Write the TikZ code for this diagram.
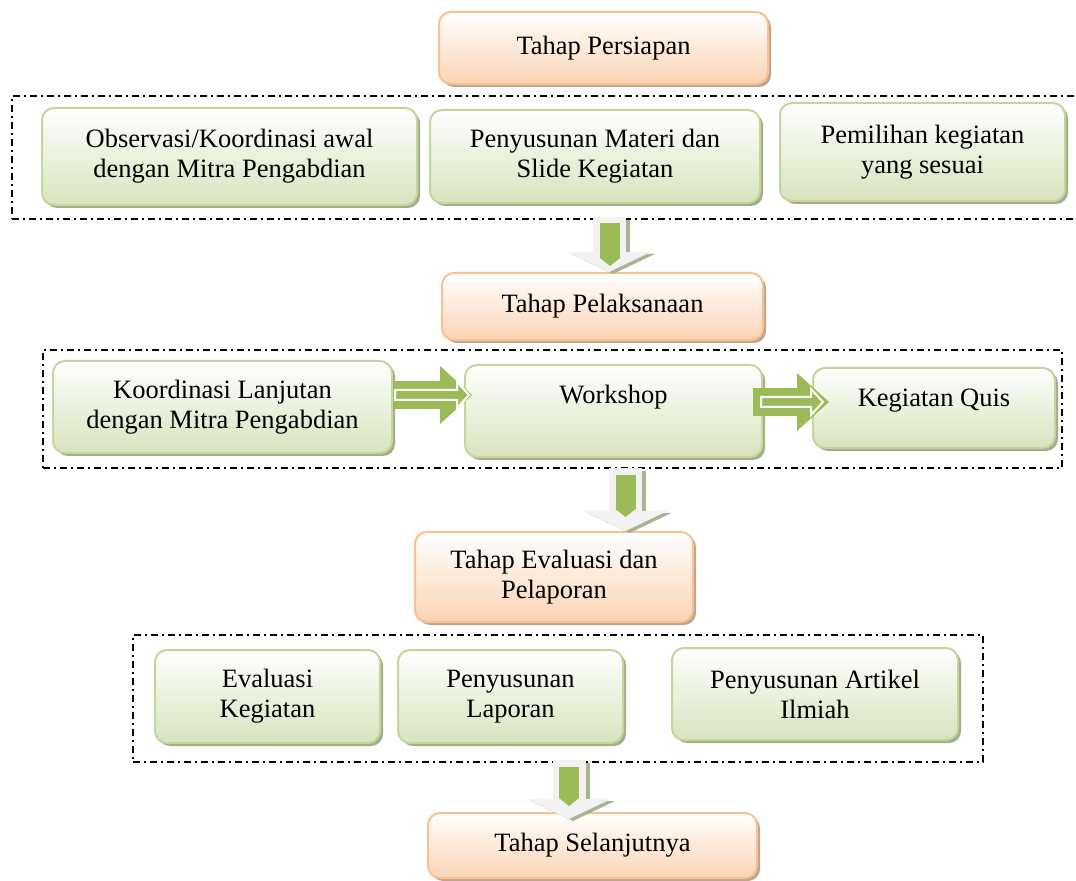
\documentclass[tikz,border=0pt]{standalone}
\usepackage{fontspec}
\setmainfont{Liberation Serif}
\usepackage{tikz}
\usetikzlibrary{arrows.meta,shadows}
\definecolor{BoxGreen}{HTML}{D7E4BD}
\definecolor{EdgeGreen}{HTML}{C3D69B}
\definecolor{ShadeGreen}{HTML}{A3AD8C}
\definecolor{BoxOrange}{HTML}{FBD4B4}
\definecolor{EdgeOrange}{HTML}{FAC090}
\definecolor{ShadeOrange}{HTML}{BFA58E}
\definecolor{ArrowGreen}{HTML}{9BBB59}
\definecolor{ArrowLight}{HTML}{F2F2F2}
\definecolor{ArrowShade}{HTML}{A8B592}

\begin{document}
\begin{tikzpicture}[x=0.5pt,y=-0.5pt,font=\fontsize{13.25}{15}\selectfont,
  base/.style={rounded corners=6pt,line width=1pt,align=center,inner sep=2pt},
  stage/.style={base,draw=EdgeOrange,top color=white,bottom color=BoxOrange,
    drop shadow={shadow xshift=1.5pt,shadow yshift=-1.5pt,fill=ShadeOrange,opacity=1}},
  task/.style={base,draw=EdgeGreen,top color=white,bottom color=BoxGreen,
    drop shadow={shadow xshift=1.5pt,shadow yshift=-1.5pt,fill=ShadeGreen,opacity=1}},
  group/.style={draw,line width=1pt,dash pattern=on 3.5pt off 2pt on 1pt off 2pt,inner sep=0pt},
  dbody/.style={draw=ArrowLight,line width=16.5pt,-{Triangle[length=10pt,width=42pt,line width=0pt]}},
  dshade/.style={dbody,draw=ArrowShade},
  dcore/.style={draw=ArrowGreen,line width=10pt,-{Triangle[length=4pt,width=10pt,line width=0pt]}},
  rbody/.style={draw=ArrowGreen,line width=14pt,-{Triangle[length=16pt,width=29pt,line width=0pt]}},
  hollow/.style={draw=white,line width=1pt}]
  \useasboundingbox (0,0) rectangle (1076,881);

  % dashed frames
  \node[group,minimum width=536.5pt,minimum height=61.5pt] (f1) at (548.5,157.5) {};
  \node[group,minimum width=509.5pt,minimum height=59pt] (f2) at (552.5,409) {};
  \node[group,minimum width=425pt,minimum height=63.5pt] (f3) at (558,698.5) {};

  % stages
  \node[stage,minimum width=164.5pt,minimum height=36pt] (prep) at (603.5,48) {Tahap Persiapan};
  \node[stage,minimum width=160.5pt,minimum height=33.5pt] (pel) at (602.5,306.5) {Tahap Pelaksanaan};
  \node[stage,minimum width=139pt,minimum height=45pt] (evalp) at (554,577) {Tahap Evaluasi dan\\Pelaporan};
  \node[stage,minimum width=164.5pt,minimum height=32.5pt] (next) at (592.5,845.5) {Tahap Selanjutnya};

  % tasks
  \node[task,minimum width=187.5pt,minimum height=48.5pt] (obs) at (229.5,156.5) {Observasi/Koordinasi awal\\dengan Mitra Pengabdian};
  \node[task,minimum width=165pt,minimum height=46.5pt] (mat) at (595,156.5) {Penyusunan Materi dan\\Slide Kegiatan};
  \node[task,minimum width=142.5pt,minimum height=49pt] (pil) at (922.5,152) {Pemilihan kegiatan\\yang sesuai};
  \node[task,minimum width=169.5pt,minimum height=46pt] (koord) at (222.5,407) {Koordinasi Lanjutan\\dengan Mitra Pengabdian};
  \node[task,minimum width=148.5pt,minimum height=46pt,text depth=17pt] (work) at (613.5,411) {Workshop};
  \node[task,minimum width=121pt,minimum height=40pt,text depth=10pt] (quis) at (934,408) {Kegiatan Quis};
  \node[task,minimum width=112.5pt,minimum height=46.5pt] (evk) at (267.5,696.5) {Evaluasi\\Kegiatan};
  \node[task,minimum width=112.5pt,minimum height=46.5pt] (lap) at (510.5,696.5) {Penyusunan\\Laporan};
  \node[task,minimum width=143pt,minimum height=46pt] (art) at (815,694) {Penyusunan Artikel\\Ilmiah};

  % arrows inside phase 2
  \draw[rbody] ([shift={(0,-12)}]koord.east) -- ([shift={(8,-16)}]work.west);
  \draw[hollow] ([shift={(2,-17)}]koord.east) -- ++(62,0) -- ++(0,-8) -- ++(12,13)
    -- ++(-12,13) -- ++(0,-8) -- ++(-62,0) -- cycle;
  \draw[rbody] ([shift={(-10,-9)}]work.east) -- ([shift={(17,-6)}]quis.west);
  \draw[hollow] ([shift={(-2,-14)}]work.east) -- ++(50,0) -- ++(0,-8) -- ++(12,13)
    -- ++(-12,13) -- ++(0,-8) -- ++(-50,0) -- cycle;

  % arrows between phases
  \coordinate (d1) at (609,217);
  \coordinate (d1e) at (d1 |- pel.north);
  \draw[dshade] ([shift={(4,3)}]d1) -- ([shift={(4,2)}]d1e);
  \draw[dbody] (d1) -- (d1e);
  \draw[dcore] ([shift={(1,6)}]d1) -- ([shift={(1,-6)}]d1e);

  \coordinate (d2) at (625.5,468);
  \coordinate (d2e) at (d2 |- evalp.north);
  \draw[dshade] ([shift={(4,3)}]d2) -- ([shift={(4,2)}]d2e);
  \draw[dbody] (d2) -- (d2e);
  \draw[dcore] ([shift={(0,7)}]d2) -- ([shift={(0,-14)}]d2e);

  \coordinate (d3) at (569,760);
  \coordinate (d3e) at ([shift={(0,7)}]d3 |- next.north);
  \draw[dshade] ([shift={(4,3)}]d3) -- ([shift={(4,2)}]d3e);
  \draw[dbody] (d3) -- (d3e);
  \draw[dcore] ([shift={(0,7)}]d3) -- ([shift={(0,-13)}]d3e);
\end{tikzpicture}
\end{document}
